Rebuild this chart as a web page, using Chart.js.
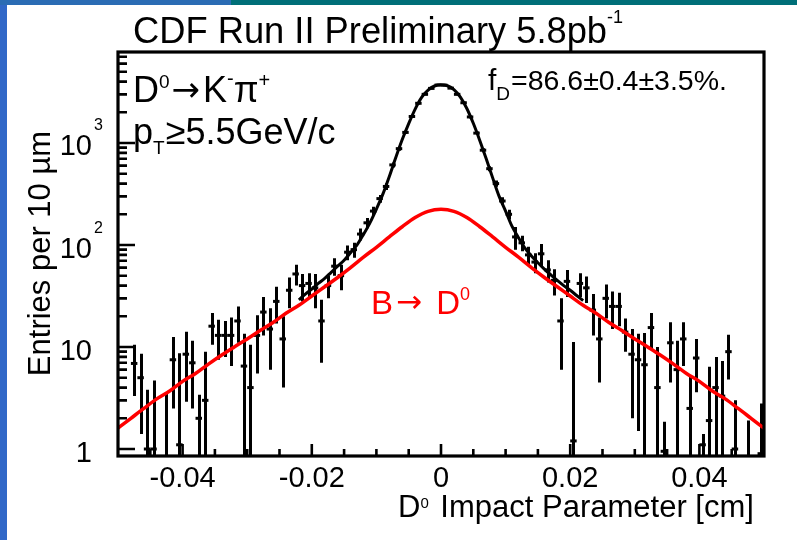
<!DOCTYPE html>
<html>
<head>
<meta charset="utf-8">
<script src="https://cdn.jsdelivr.net/npm/chart.js@4.4.1/dist/chart.umd.min.js"></script>
<style>
body{margin:0;background:#fff;}
canvas{display:block;}
</style>
</head>
<body>
<canvas id="c" width="797" height="540"></canvas>
<script>
// D0 impact parameter histogram: 100 bins of 10 um between -0.05 and 0.05 cm
var binLow = -0.05, binWidth = 0.001;
var entries = [
  null, null, 6.9, 5.0, 1.0, 1.0, null, 0.7, 7.5, 1.1,
  8.5, 7.0, 2.0, 3.0, 16, 13, 13, 13, 18, 6.5,
  4, 13, 22, 15, 28, 12, 36, 52, 40, 42,
  38, 18, 40, 62, 50, 85, 90, 128, 165, 215,
  285, 375, 610, 880, 1270, 1820, 2450, 3000, 3430, 3700,
  3690, 3450, 3000, 2480, 1800, 1250, 850, 560, 400, 270,
  200, 120, 105, 80, 68, 82, 57, 45, 18, 44,
  1.2, 42, 38, 23, 12, 30, 25, 25, 14, 8.5,
  7.5, 6.7, 15.5, 4, 0.95, 11, 6, 12, 2.5, 7.8,
  1.1, 1.9, 4, 3.3, 9, 1, null, 0.8, null, 0.9
];
var errors = [
  0, 0, 3.6, 3.6, 2.8, 3.7, 0, 2.8, 5, 7.6,
  5.6, 4.5, 1.4, 6, 5.5, 5.5, 5, 6.5, 7, 7,
  6.5, 7.5, 9, 9, 11, 8, 12, 12, 12, 11,
  14, 11, 10, 12, 14, 14, 15, 17, 19, 22,
  25, 28, 35, 40, 45, 55, 60, 70, 75, 80,
  80, 75, 70, 62, 55, 45, 38, 32, 28, 24,
  22, 30, 18, 16, 15, 20, 14, 13, 12, 13,
  10, 11, 11, 10, 7.5, 11, 10, 9, 5, 6.5,
  6, 7, 6, 6, 0.9, 6.5, 5.5, 5.5, 2.8, 4.2,
  0.3, 4.5, 4, 4, 4.2, 2, 0, 1.1, 0, 1.9
];
// B -> D0 component, every 0.002 cm from -0.05
var bStep = 0.002;
var bCurve = [
  1.6, 2.0, 2.5, 3.1, 3.7, 4.6, 5.5, 6.8, 8.3, 10.0,
  12.0, 14.5, 17.4, 21.4, 25.7, 31.6, 39, 48, 60, 76,
  95, 120, 151, 186, 214, 224,
  214, 186, 151, 120, 95, 76, 60, 48, 39, 31.6,
  25.7, 21.4, 17.4, 14.5, 12.0, 10.0, 8.3, 6.8, 5.5, 4.6,
  3.7, 3.1, 2.5, 2.0, 1.6
];
// total fit, every 0.001 cm from -0.022 to 0.022
var fitStart = -0.022, fitStep = 0.001;
var fitCurve = [
  29, 33, 37, 42, 47, 54, 62, 71, 84, 100,
  127, 165, 225, 315, 470, 720, 1080, 1550, 2150, 2800,
  3300, 3620, 3720, 3640, 3340, 2820, 2180, 1560, 1060, 700,
  455, 300, 215, 152, 118, 93, 78, 67, 58, 51,
  45, 40, 36, 32, 28.5
];
var xTicks = [-0.04, -0.02, 0, 0.02, 0.04];
var xTickLabels = ['-0.04', '-0.02', '0', '0.02', '0.04'];
var yTicks = [1, 10, 100, 1000];
var yTickLabels = [['1', ''], ['10', ''], ['10', '2'], ['10', '3']];

var FONT = '"Liberation Sans", Arial, sans-serif';
var ARROW = '"DejaVu Sans", sans-serif';

function rich(ctx, x, y, parts, color) {
  ctx.fillStyle = color || '#000';
  ctx.textAlign = 'left';
  ctx.textBaseline = 'alphabetic';
  parts.forEach(function(p) {
    ctx.font = p[1] + 'px ' + (p[4] || FONT);
    ctx.fillText(p[0], x, y + (p[2] || 0));
    x += ctx.measureText(p[0]).width + (p[3] || 0);
  });
}

var points = [];
entries.forEach(function(v, i) {
  if (v !== null) points.push({x: binLow + binWidth * (i + 0.5), y: v});
});
var bData = bCurve.map(function(v, i) { return {x: binLow + bStep * i, y: v}; });
var fitData = fitCurve.map(function(v, i) { return {x: fitStart + fitStep * i, y: v}; });

var decor = {
  id: 'decor',
  beforeDraw: function(chart) {
    var ctx = chart.ctx;
    ctx.save();
    ctx.fillStyle = '#fff';
    ctx.fillRect(0, 0, chart.width, chart.height);
    ctx.fillStyle = '#3168c8';
    ctx.fillRect(0, 0, 7, chart.height);
    ctx.fillStyle = '#2b6cb4';
    ctx.fillRect(0, 0, 231, 5);
    ctx.fillStyle = '#006f78';
    ctx.fillRect(231, 0, chart.width - 231, 5);
    ctx.restore();
  },
  beforeDatasetsDraw: function(chart) {
    var ctx = chart.ctx, xs = chart.scales.x, ys = chart.scales.y, a = chart.chartArea;
    ctx.save();
    ctx.beginPath();
    ctx.rect(a.left, a.top, a.right - a.left, a.bottom - a.top);
    ctx.clip();
    ctx.strokeStyle = '#000';
    ctx.lineWidth = 3;
    ctx.beginPath();
    entries.forEach(function(v, i) {
      if (v === null) return;
      var x = Math.round(xs.getPixelForValue(binLow + binWidth * (i + 0.5))) + 0.5;
      var lo = v - errors[i];
      var yTop = ys.getPixelForValue(v + errors[i]);
      var yBot = lo > 0 ? ys.getPixelForValue(lo) : a.bottom + 5;
      ctx.moveTo(x, yTop);
      ctx.lineTo(x, yBot);
    });
    ctx.stroke();
    ctx.restore();
  },
  afterDraw: function(chart) {
    var ctx = chart.ctx, xs = chart.scales.x, ys = chart.scales.y, a = chart.chartArea;
    ctx.save();
    ctx.strokeStyle = '#000';
    // inward ticks, left axis
    ctx.lineWidth = 2.6;
    ctx.beginPath();
    for (var d = 0; d <= 3; d++) {
      for (var m = 1; m <= 9; m++) {
        var v = m * Math.pow(10, d);
        if (v > ys.max) continue;
        var y = ys.getPixelForValue(v);
        ctx.moveTo(a.left, y);
        ctx.lineTo(a.left + (m === 1 ? 17 : 9), y);
      }
    }
    // inward ticks, bottom axis
    for (var k = -9; k <= 9; k++) {
      var x = xs.getPixelForValue(k * 0.005);
      ctx.moveTo(x, a.bottom);
      ctx.lineTo(x, a.bottom - (k % 4 === 0 ? 12 : 7));
    }
    ctx.stroke();
    // frame
    ctx.lineWidth = 3.2;
    ctx.strokeRect(a.left, a.top, a.right - a.left, a.bottom - a.top);

    // tick labels
    ctx.fillStyle = '#000';
    ctx.font = '29px ' + FONT;
    ctx.textAlign = 'center';
    ctx.textBaseline = 'alphabetic';
    xTicks.forEach(function(t, i) {
      ctx.fillText(xTickLabels[i], xs.getPixelForValue(t), 487);
    });
    yTicks.forEach(function(t, i) {
      var y = ys.getPixelForValue(t);
      ctx.font = '29px ' + FONT;
      ctx.textAlign = 'right';
      ctx.fillText(yTickLabels[i][0], 92, y + 12.5);
      if (yTickLabels[i][1]) {
        ctx.font = '16px ' + FONT;
        ctx.textAlign = 'left';
        ctx.fillText(yTickLabels[i][1], 94, y - 12.5);
      }
    });

    // axis titles
    rich(ctx, 398, 517, [['D', 31], ['0', 15, -9, 3], [' Impact Parameter [cm]', 31]]);
    ctx.save();
    ctx.translate(50, 253.5);
    ctx.rotate(-Math.PI / 2);
    ctx.font = '31px ' + FONT;
    ctx.textAlign = 'center';
    ctx.fillText('Entries per 10 \u00b5m', 0, 0);
    ctx.restore();

    // title and annotations
    rich(ctx, 133, 43, [['CDF Run II Preliminary 5.8pb', 36.3], ['-1', 18, -20]]);
    rich(ctx, 133, 102, [['D', 36], ['0', 19, -14, 2], ['\u2192', 34, -1, 3, ARROW], ['K', 36], ['-', 20, -17], ['\u03c0', 36], ['+', 20, -15]]);
    rich(ctx, 133, 144, [['p', 36], ['T', 19, 10, 1], ['\u22655.5GeV/c', 36]]);
    rich(ctx, 488, 90, [['f', 30], ['D', 19, 10, 1], ['=86.6\u00b10.4\u00b13.5%.', 28.5]]);
    rich(ctx, 371, 314, [['B', 33, 0, 3], ['\u2192', 31, -2, 5, ARROW], [' D', 33], ['0', 18, -14]], '#ff0000');
    ctx.restore();
  }
};

new Chart(document.getElementById('c'), {
  type: 'scatter',
  data: {
    datasets: [
      {
        label: 'B \u2192 D0',
        data: bData,
        showLine: true,
        borderColor: '#ff0000',
        borderWidth: 3.5,
        pointRadius: 0,
        cubicInterpolationMode: 'monotone',
        order: 0
      },
      {
        label: 'fit',
        data: fitData,
        showLine: true,
        borderColor: '#000',
        borderWidth: 3,
        pointRadius: 0,
        cubicInterpolationMode: 'monotone',
        order: 1
      },
      {
        label: 'data',
        data: points,
        pointStyle: 'line',
        pointRadius: function(c) {
          var xs = c.chart.scales.x;
          return (xs.getPixelForValue(binWidth) - xs.getPixelForValue(0)) / 2;
        },
        pointBorderWidth: 3,
        borderColor: '#000',
        backgroundColor: '#000',
        order: 2
      }
    ]
  },
  options: {
    responsive: false,
    animation: false,
    devicePixelRatio: 1,
    layout: {padding: {left: 118, right: 33, top: 52, bottom: 84}},
    plugins: {legend: {display: false}, tooltip: {enabled: false}, title: {display: false}},
    scales: {
      x: {type: 'linear', min: -0.05, max: 0.05, display: false},
      y: {type: 'logarithmic', min: 0.854, max: 7800, display: false}
    }
  },
  plugins: [decor]
});
</script>
</body>
</html>
